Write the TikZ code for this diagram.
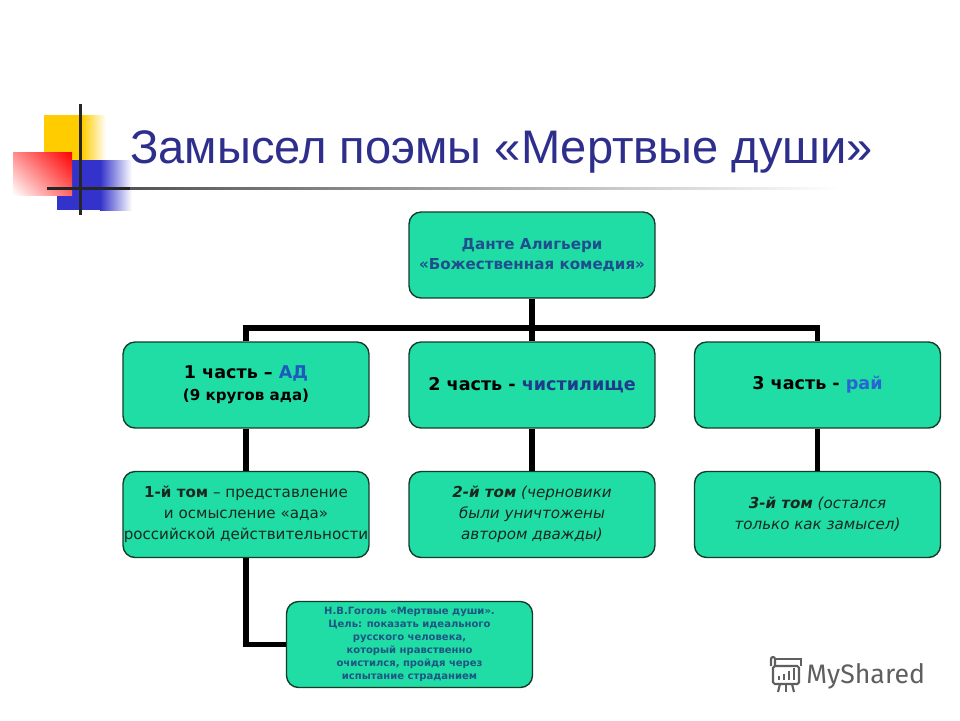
\documentclass[tikz,border=0pt]{standalone}
\usepackage{fontspec}
\usetikzlibrary{shadings}
\setmainfont{DejaVu Sans}
\newfontfamily\titlefont{Liberation Sans}
\newfontfamily\logofont{Fira Sans}
\definecolor{boxfill}{RGB}{32,221,166}
\definecolor{boxline}{RGB}{20,60,40}
\definecolor{titleblue}{RGB}{46,46,140}
\definecolor{topblue}{RGB}{31,78,140}
\definecolor{adblue}{RGB}{30,90,190}
\definecolor{chblue}{RGB}{30,60,140}
\definecolor{raiblue}{RGB}{40,100,210}
\definecolor{txtdark}{RGB}{25,40,30}
\definecolor{goalblue}{RGB}{30,85,130}
\definecolor{decyellow}{RGB}{255,204,0}
\definecolor{decblue}{RGB}{51,51,204}
\definecolor{logogray}{RGB}{95,95,95}
\tikzset{
  stepbox/.style={draw=boxline, line width=0.8pt, fill=boxfill, rounded corners=0.24cm,
    minimum width=4.92cm, minimum height=1.72cm, align=center, inner sep=0pt},
  conn/.style={line width=3.4pt, draw=black},
  boldtxt/.style={font=\fontsize{10}{12.5}\selectfont\bfseries},
  plaintxt/.style={font=\fontsize{8.6}{11.9}\selectfont, text=txtdark},
}
\begin{document}
\begin{tikzpicture}[x=0.02cm,y=-0.02cm]
\fill[white] (0,0) rectangle (960,720);
\useasboundingbox (0,0) rectangle (960,720);
% decoration
\fill[decyellow] (44,115) rectangle (82,160);
\shade[left color=decyellow, right color=white] (82,115) rectangle (106,160);
\fill[decblue] (57,160) rectangle (100,210);
\shade[left color=decblue, right color=white] (100,160) rectangle (132,210);
\shade[upper right=red, upper left=red!45, lower left=white, lower right=red!60] (13,152) rectangle (72,195);
\shade[left color=black!75, right color=white] (47,187) rectangle (840,189.5);
\fill[black!85] (47,187) rectangle (130,189.5);
\fill[black!85] (79,104) rectangle (81.5,215);
% title
\node[anchor=base west, text=titleblue, font=\titlefont\fontsize{26.8}{32}\selectfont, inner sep=0pt] (title) at (130,163) {Замысел поэмы «Мертвые души»};
% boxes
\node[stepbox, text=topblue, font=\fontsize{8.6}{11.5}\selectfont\bfseries] (top) at (532,255) {Данте Алигьери\\«Божественная комедия»};
\node[stepbox, boldtxt] (p1) at (246,385) {1 часть – \textcolor{adblue}{АД}\\{\fontsize{8.6}{11}\selectfont(9 кругов ада)}};
\node[stepbox, boldtxt] (p2) at (532,385) {2 часть - \textcolor{chblue}{чистилище}};
\node[stepbox, boldtxt] (p3) at (817.5,385) {3 часть - \textcolor{raiblue}{рай}};
\node[stepbox, plaintxt] (v1) at (246,514.5) {\textbf{1-й том} – представление\\и осмысление «ада»\\российской действительности};
\node[stepbox, plaintxt] (v2) at (532,514.5) {\textbf{\itshape 2-й том} \itshape(черновики\\\itshape были уничтожены\\\itshape автором дважды)};
\node[stepbox, plaintxt] (v3) at (817.5,514.5) {\textbf{\itshape 3-й том} \itshape(остался\\\itshape только как замысел)};
\node[stepbox, text=goalblue, font=\fontsize{5.7}{7.4}\selectfont\bfseries] (goal) at (409.5,644.5) {Н.В.Гоголь «Мертвые души».\\Цель: показать идеального\\русского человека,\\который нравственно\\очистился, пройдя через\\испытание страданием};
% connectors
\coordinate (bar) at (532,328);
\draw[conn] (top.south) -- (p2.north);
\draw[conn] (p1.north) -- (p1.north |- bar) -- (p3.north |- bar) -- (p3.north);
\draw[conn] (p1.south) -- (v1.north);
\draw[conn] (p2.south) -- (v2.north);
\draw[conn] (p3.south) -- (v3.north);
\draw[conn] (v1.south) |- (goal.west);
% logo
\node[anchor=base west, text=logogray, font=\logofont\fontsize{15.2}{18}\selectfont, inner sep=0pt] (logo) at (806,683) {MyShared};
\begin{scope}[draw=logogray, line width=1.2pt]
\draw[rounded corners=1pt] (773,666) rectangle (799,684);
\draw (771,666) -- (771,659) arc[start angle=180, end angle=0, x radius=2, y radius=-2] -- (775,666);
\draw (775,659) -- (801,659) -- (801,666);
\fill[logogray] (778,676) rectangle (780,680);
\fill[logogray] (783,674) rectangle (785,680);
\fill[logogray] (788,671) rectangle (790,680);
\fill[logogray] (793,668) rectangle (795,680);
\draw (780,684) -- (778,692);
\draw (786,684) -- (786,692);
\draw (792,684) -- (794,692);
\end{scope}
\end{tikzpicture}
\end{document}
